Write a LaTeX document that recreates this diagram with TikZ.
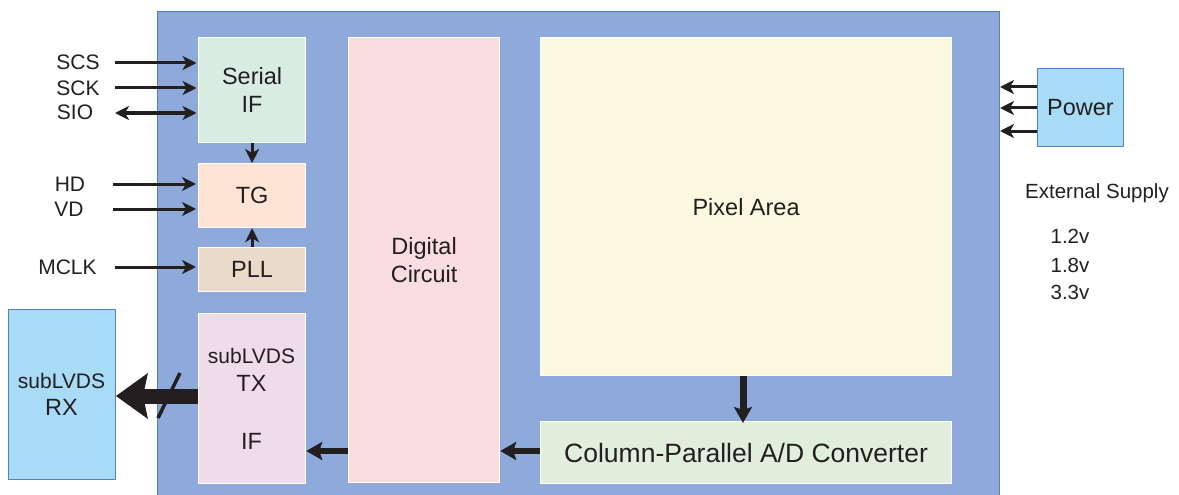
\documentclass[tikz,border=0pt]{standalone}
\usepackage{fontspec}
\setmainfont{Liberation Sans}
\usetikzlibrary{arrows.meta}
\definecolor{chipc}{HTML}{8EAADB}
\definecolor{chipb}{HTML}{5A7EC6}
\definecolor{sifc}{HTML}{D9ECE4}
\definecolor{tgc}{HTML}{FDE4D4}
\definecolor{pllc}{HTML}{EADACA}
\definecolor{txc}{HTML}{EFDCE9}
\definecolor{digc}{HTML}{FADDE0}
\definecolor{pixc}{HTML}{FAF9E0}
\definecolor{adcc}{HTML}{E0EEDB}
\definecolor{powc}{HTML}{A8DBF6}
\definecolor{powb}{HTML}{5A7EC6}
\definecolor{ink}{HTML}{231F20}
\begin{document}
\begin{tikzpicture}[x=1pt,y=-1pt,
  every node/.style={text=ink},
  inbox/.style={draw=white, line width=1.2pt, anchor=north west, inner sep=0pt, align=center,
    font=\fontsize{23.5}{28}\selectfont},
  extbox/.style={draw=powb, line width=1pt, fill=powc, anchor=north west, inner sep=0pt, align=center,
    font=\fontsize{23.5}{28}\selectfont},
  lbl/.style={font=\fontsize{21}{25}\selectfont, inner sep=0pt},
  sig/.style={draw=ink, line width=3pt, -{Stealth[length=14pt,width=14pt,inset=4pt]}},
  sigboth/.style={draw=ink, line width=3pt, {Stealth[length=14pt,width=14pt,inset=4pt]}-{Stealth[length=14pt,width=14pt,inset=4pt]}},
  mid/.style={draw=ink, line width=6pt, -{Stealth[length=16pt,width=18pt,inset=3pt]}},
  bus/.style={draw=ink, line width=15pt, -{Stealth[length=32pt,width=46pt,inset=5pt,line width=0pt]}}
]
\useasboundingbox (0,0) rectangle (1179,495);
\fill[white] (0,0) rectangle (1179,495);

% chip
\node[draw=chipb, line width=1pt, fill=chipc, anchor=north west, inner sep=0pt,
  minimum width=842pt, minimum height=500pt] (chip) at (157,11) {};

% inner blocks
\node[inbox, fill=sifc, minimum width=107pt, minimum height=105pt] (sif) at (198,37) {Serial\\IF};
\node[inbox, fill=tgc, minimum width=107pt, minimum height=64pt] (tg) at (198,163) {TG};
\node[inbox, fill=pllc, minimum width=107pt, minimum height=44pt] (pll) at (198,247) {PLL};
\node[inbox, fill=txc, minimum width=107pt, minimum height=170pt] (tx) at (198,313) {};
\node[lbl] (txa) at (251.5,356) {subLVDS};
\node[inbox, draw=none, anchor=center] (txb) at (251.5,383) {TX};
\node[inbox, draw=none, anchor=center] (txc) at (251.5,441) {IF};
\node[inbox, fill=digc, minimum width=151pt, minimum height=445pt] (dig) at (348,37) {Digital\\Circuit};
\node[inbox, fill=pixc, minimum width=411pt, minimum height=338pt] (pix) at (540,37) {Pixel Area};
\node[inbox, fill=adcc, minimum width=411pt, minimum height=62pt, font=\fontsize{26.5}{30}\selectfont] (adc) at (540,421) {Column-Parallel A/D Converter};

% external blocks
\node[extbox, minimum width=86pt, minimum height=78pt] (pow) at (1037,68) {Power};
\node[extbox, minimum width=107pt, minimum height=170pt] (rx) at (8,309) {};
\node[lbl] (rxa) at (61.5,381) {subLVDS};
\node[inbox, draw=none, anchor=center] (rxb) at (61.5,407) {RX};

% left labels
\node[lbl] (scs) at (78,62) {SCS};
\node[lbl] (sck) at (78,88) {SCK};
\node[lbl] (sio) at (75,112) {SIO};
\node[lbl] (hd) at (70,184) {HD};
\node[lbl] (vd) at (69,209) {VD};
\node[lbl] (mclk) at (67.5,267) {MCLK};

% right labels
\node[lbl, font=\fontsize{20.5}{24}\selectfont] (ext) at (1097,193) {External Supply};
\node[lbl, font=\fontsize{20.5}{24}\selectfont] (v1) at (1070,236) {1.2v};
\node[lbl, font=\fontsize{20.5}{24}\selectfont] (v2) at (1070,265) {1.8v};
\node[lbl, font=\fontsize{20.5}{24}\selectfont] (v3) at (1070,292) {3.3v};

% input connectors
\coordinate (cscs) at (115,63);
\coordinate (csck) at (115,88);
\coordinate (csio) at (115,113);
\coordinate (chd) at (113,184);
\coordinate (cvd) at (113,209);
\coordinate (cmclk) at (115,267);
\draw[sig, shorten >=1.5pt] (cscs) -- (sif.west |- cscs);
\draw[sig, shorten >=1.5pt] (csck) -- (sif.west |- csck);
\draw[sigboth, shorten >=1.5pt] (csio) -- (sif.west |- csio);
\draw[sig, shorten >=2pt] (chd) -- (tg.west |- chd);
\draw[sig, shorten >=2pt] (cvd) -- (tg.west |- cvd);
\draw[sig, shorten >=2pt] (cmclk) -- (pll.west |- cmclk);

% internal connectors
\draw[sig] (sif.south) -- (tg.north);
\draw[sig] (pll.north) -- (tg.south);
\draw[mid] (dig.west |- 0,451) -- (tx.east |- 0,451);
\draw[mid] (adc.west |- 0,451) -- (dig.east |- 0,451);
\draw[mid, line width=7pt] (pix.south -| 743,0) -- ([yshift=-2pt]adc.north -| 743,0);

% power connectors
\draw[sig] (pow.west |- 0,87) -- (chip.east |- 0,87);
\draw[sig] (pow.west |- 0,108) -- (chip.east |- 0,108);
\draw[sig] (pow.west |- 0,131) -- (chip.east |- 0,131);

% bus to RX
\draw[bus] (tx.west |- 0,396) -- (rx.east |- 0,396);
\draw[ink, line width=3.5pt] (180,373) -- (158,418);
\end{tikzpicture}
\end{document}
